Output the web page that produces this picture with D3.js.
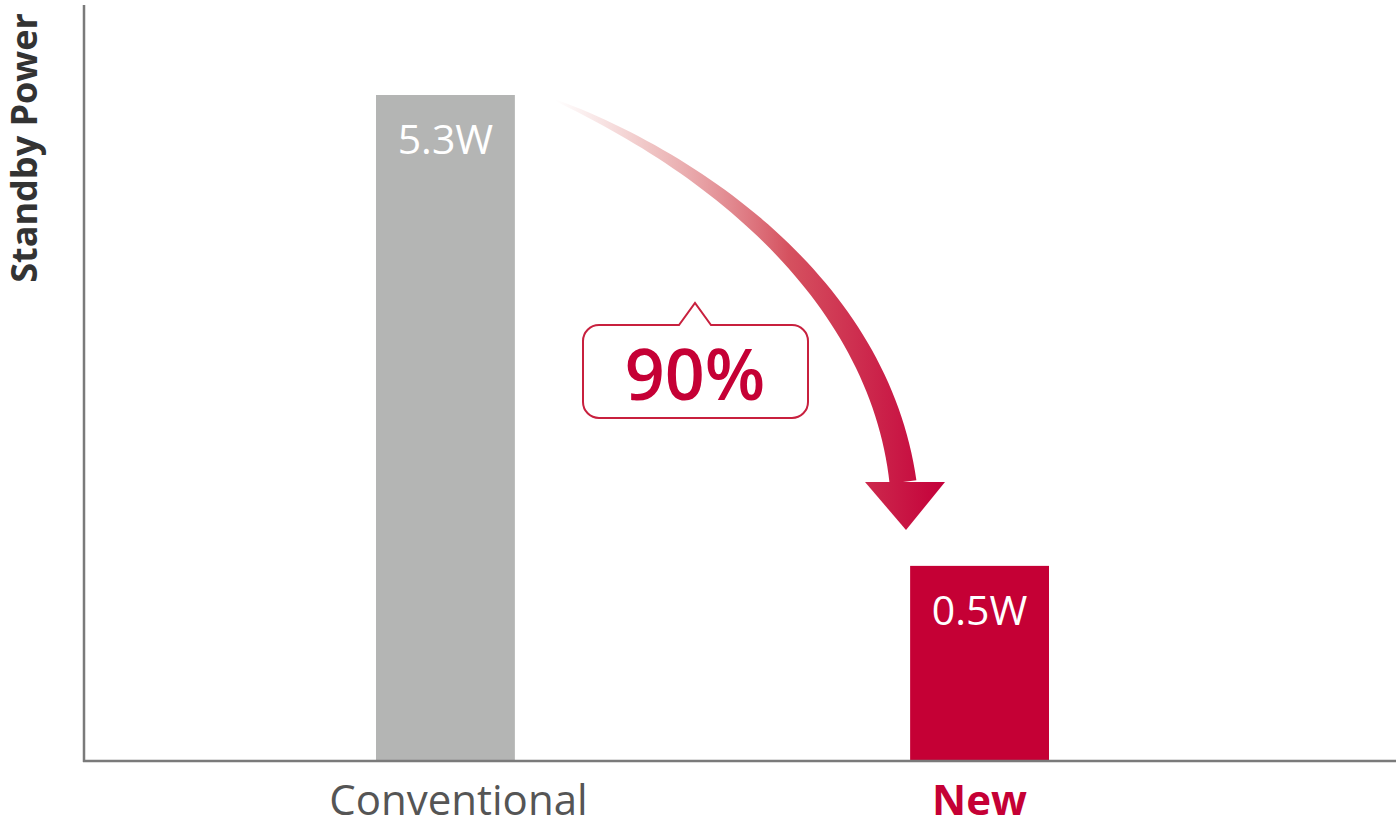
<!DOCTYPE html>
<html>
<head>
<meta charset="utf-8">
<script src="https://cdn.jsdelivr.net/npm/d3@7/dist/d3.min.js"></script>
<style>
  html, body { margin: 0; padding: 0; background: #fff; }
  svg { display: block; }
</style>
</head>
<body>
<svg id="chart"></svg>
<script>
// data
var categories = ["Conventional", "New"];
var values = [5.3, 0.5];
var valueLabels = ["5.3W", "0.5W"];
var reductionLabel = "90%";
var yTitle = "Standby Power";

var barColors = ["#b4b5b4", "#c50035"];
var catColors = ["#555555", "#c50035"];
var catWeights = ["normal", "bold"];

var width = 1396, height = 828;
var svg = d3.select("#chart").attr("width", width).attr("height", height);

var font = "'Open Sans', 'Noto Sans', sans-serif";
var baseY = 761, axisX = 84;

var x = d3.scaleBand()
    .domain(categories)
    .range([376, 1049])
    .paddingInner(0.74)
    .paddingOuter(0);

// the picture does not draw bars to scale, a soft power scale matches it
var y = d3.scalePow()
    .exponent(0.52)
    .domain([0, d3.max(values)])
    .range([baseY, 95]);

// gradient for the curved arrow
var defs = svg.append("defs");
var grad = defs.append("linearGradient")
    .attr("id", "arrowGrad")
    .attr("gradientUnits", "userSpaceOnUse")
    .attr("x1", 555).attr("y1", 0)
    .attr("x2", 945).attr("y2", 0);
grad.append("stop").attr("offset", "0").attr("stop-color", "#e7a3a3").attr("stop-opacity", 0);
grad.append("stop").attr("offset", "0.25").attr("stop-color", "#e49a9a").attr("stop-opacity", 0.6);
grad.append("stop").attr("offset", "0.6").attr("stop-color", "#d5515f").attr("stop-opacity", 1);
grad.append("stop").attr("offset", "1").attr("stop-color", "#c4003a").attr("stop-opacity", 1);

// bars
svg.append("g")
    .selectAll("rect")
    .data(values)
    .enter().append("rect")
    .attr("x", function (d, i) { return x(categories[i]) })
    .attr("y", function (d) { return y(d) })
    .attr("width", x.bandwidth())
    .attr("height", function (d) { return baseY - y(d) })
    .attr("fill", function (d, i) { return barColors[i] });

// value labels inside bars
svg.append("g")
    .selectAll("text")
    .data(values)
    .enter().append("text")
    .attr("x", function (d, i) { return x(categories[i]) + x.bandwidth() / 2 })
    .attr("y", function (d) { return y(d) + 59 })
    .attr("text-anchor", "middle")
    .attr("fill", "#fff")
    .style("font-family", font)
    .style("font-size", "41px")
    .text(function (d, i) { return valueLabels[i] });

// axes lines
svg.append("line")
    .attr("x1", axisX).attr("y1", 5)
    .attr("x2", axisX).attr("y2", baseY + 1)
    .attr("stroke", "#7a7a7a").attr("stroke-width", 2.5);
svg.append("line")
    .attr("x1", axisX - 1).attr("y1", baseY)
    .attr("x2", width).attr("y2", baseY)
    .attr("stroke", "#7a7a7a").attr("stroke-width", 2.5);

// category labels
svg.append("g")
    .selectAll("text")
    .data(categories)
    .enter().append("text")
    .attr("x", function (d) { return x(d) + x.bandwidth() / 2 })
    .attr("dx", function (d, i) { return i === 0 ? 13 : 0 })
    .attr("y", 815)
    .attr("text-anchor", "middle")
    .attr("fill", function (d, i) { return catColors[i] })
    .style("font-family", font)
    .style("font-weight", function (d, i) { return catWeights[i] })
    .style("font-size", "42px")
    .text(function (d) { return d });

// y title
svg.append("text")
    .attr("transform", "translate(37,148) rotate(-90)")
    .attr("text-anchor", "middle")
    .attr("fill", "#333")
    .style("font-family", font)
    .style("font-weight", "bold")
    .style("font-size", "36px")
    .text(yTitle);

// tapered curved arrow
var p0 = [555, 100], c1 = [720, 170], c2 = [880, 300], p3 = [903, 482];
function bez(t) {
    var u = 1 - t;
    return [
        u*u*u*p0[0] + 3*u*u*t*c1[0] + 3*u*t*t*c2[0] + t*t*t*p3[0],
        u*u*u*p0[1] + 3*u*u*t*c1[1] + 3*u*t*t*c2[1] + t*t*t*p3[1]
    ];
}
function bezD(t) {
    var u = 1 - t;
    return [
        3*u*u*(c1[0]-p0[0]) + 6*u*t*(c2[0]-c1[0]) + 3*t*t*(p3[0]-c2[0]),
        3*u*u*(c1[1]-p0[1]) + 6*u*t*(c2[1]-c1[1]) + 3*t*t*(p3[1]-c2[1])
    ];
}
var left = [], right = [];
var n = 60;
for (let i = 0; i <= n; i++) {
    let t = i / n;
    let p = bez(t), d = bezD(t);
    let len = Math.sqrt(d[0]*d[0] + d[1]*d[1]);
    let nx = -d[1] / len, ny = d[0] / len;
    let w = 1 + 26 * Math.pow(t, 0.7);
    left.push([p[0] + nx * w / 2, p[1] + ny * w / 2]);
    right.push([p[0] - nx * w / 2, p[1] - ny * w / 2]);
}
var shape = left.concat(right.reverse());
var arrowG = svg.append("g");
arrowG.append("path")
    .attr("d", d3.line()(shape) + "Z")
    .attr("fill", "url(#arrowGrad)");
arrowG.append("path")
    .attr("d", d3.line()([[865, 482], [945, 482], [906, 530]]) + "Z")
    .attr("fill", "url(#arrowGrad)");

// callout box
var box = { x0: 583, x1: 808, y0: 325, y1: 418, r: 16, px: 695, pw: 16, py: 303 };
var cp = d3.path();
cp.moveTo(box.x0 + box.r, box.y0);
cp.lineTo(box.px - box.pw, box.y0);
cp.lineTo(box.px, box.py);
cp.lineTo(box.px + box.pw, box.y0);
cp.lineTo(box.x1 - box.r, box.y0);
cp.arcTo(box.x1, box.y0, box.x1, box.y0 + box.r, box.r);
cp.lineTo(box.x1, box.y1 - box.r);
cp.arcTo(box.x1, box.y1, box.x1 - box.r, box.y1, box.r);
cp.lineTo(box.x0 + box.r, box.y1);
cp.arcTo(box.x0, box.y1, box.x0, box.y1 - box.r, box.r);
cp.lineTo(box.x0, box.y0 + box.r);
cp.arcTo(box.x0, box.y0, box.x0 + box.r, box.y0, box.r);
cp.closePath();
svg.append("path")
    .attr("d", cp.toString())
    .attr("fill", "#fff")
    .attr("stroke", "#c8203e")
    .attr("stroke-width", 2);

svg.append("text")
    .attr("x", 695)
    .attr("y", 400)
    .attr("text-anchor", "middle")
    .attr("fill", "#c50035")
    .style("font-family", font)
    .style("font-weight", "600")
    .style("font-size", "70px")
    .text(reductionLabel);
</script>
</body>
</html>
